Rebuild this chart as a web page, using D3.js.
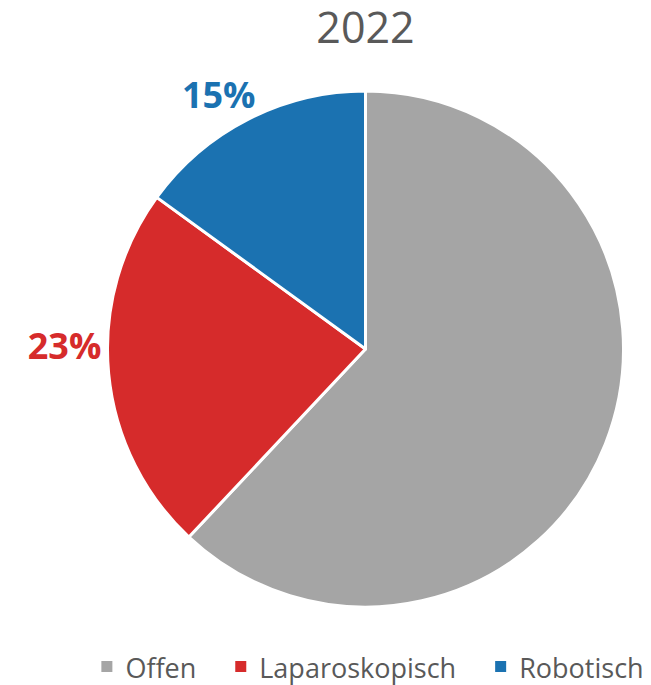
<!DOCTYPE html>
<html>
<head>
<meta charset="utf-8">
<script src="https://cdn.jsdelivr.net/npm/d3@7/dist/d3.min.js"></script>
<style>
  html, body { margin: 0; padding: 0; background: #fff; }
  svg { display: block; font-family: "Open Sans", "Noto Sans", sans-serif; }
</style>
</head>
<body>
<svg id="chart" width="651" height="685"></svg>
<script>
// Share of surgical approaches, 2022
const title = "2022";
const categories = ["Offen", "Laparoskopisch", "Robotisch"];
const shares = [62, 23, 15];
const showLabel = [false, true, true];

const colors = ["#A5A5A5", "#D62B2B", "#1B72B1"];
const textColor = "#595959";

const width = 651, height = 685;
const cx = 365.5, cy = 349, radius = 258;

// small angular adjustment (degrees) for the outside labels
const labelShift = { "Laparoskopisch": 6, "Robotisch": -3 };

const svg = d3.select("#chart");

svg.append("text")
  .attr("x", cx)
  .attr("y", 43)
  .attr("text-anchor", "middle")
  .attr("font-size", 43)
  .attr("fill", textColor)
  .text(title);

const data = categories.map((c, i) => ({ cat: c, value: shares[i], color: colors[i], label: showLabel[i] }));

const pie = d3.pie().sort(null).value(d => d.value);
const arc = d3.arc().innerRadius(0).outerRadius(radius);
const arcs = pie(data);

const g = svg.append("g").attr("transform", `translate(${cx},${cy})`);

g.selectAll("path.slice")
  .data(arcs)
  .join("path")
  .attr("class", "slice")
  .attr("d", arc)
  .attr("fill", d => d.data.color)
  .attr("stroke", "#fff")
  .attr("stroke-width", 3)
  .attr("stroke-linejoin", "round");

// outside-end percentage labels
const labels = g.selectAll("text.lbl")
  .data(arcs.filter(d => d.data.label))
  .join("text")
  .attr("class", "lbl")
  .attr("font-size", 36)
  .attr("font-weight", "bold")
  .attr("fill", d => d.data.color)
  .attr("text-anchor", "middle")
  .attr("dominant-baseline", "central")
  .text(d => d.data.value + "%");

labels.each(function(d) {
  const bb = this.getBBox();
  const hw = bb.width / 2, hh = 13;
  const a = (d.startAngle + d.endAngle) / 2 + (labelShift[d.data.cat] || 0) * Math.PI / 180;
  const ux = Math.sin(a), uy = -Math.cos(a);
  const r = radius + 6 + Math.abs(ux) * hw + Math.abs(uy) * hh;
  d3.select(this).attr("x", ux * r).attr("y", uy * r);
});

// legend along the bottom
const legend = svg.append("g");
const items = legend.selectAll("g.item")
  .data(data)
  .join("g")
  .attr("class", "item");

items.append("rect")
  .attr("width", 11)
  .attr("height", 11)
  .attr("y", 661)
  .attr("fill", d => d.color);

items.append("text")
  .attr("x", 24)
  .attr("y", 678)
  .attr("font-size", 27)
  .attr("fill", textColor)
  .text(d => d.cat);

let xpos = 0;
const gap = 39;
items.each(function() {
  const w = this.getBBox().width;
  d3.select(this).attr("transform", `translate(${xpos},0)`);
  xpos += w + gap;
});
const total = xpos - gap;
legend.attr("transform", `translate(${cx + 7 - total / 2},0)`);
</script>
</body>
</html>
